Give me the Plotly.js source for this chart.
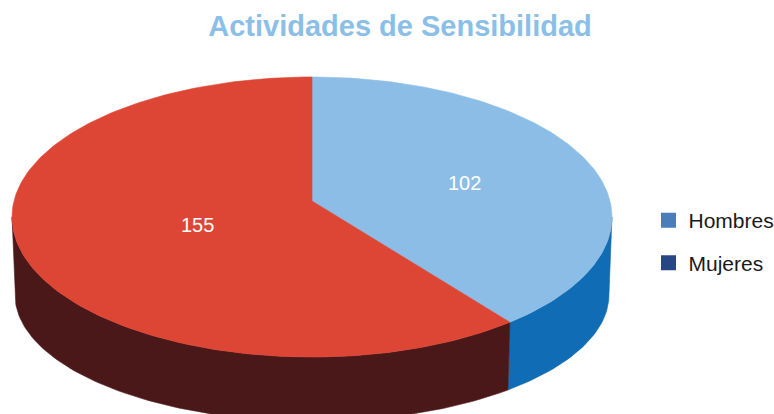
<!DOCTYPE html>
<html>
<head>
<meta charset="utf-8">
<script src="https://cdn.plot.ly/plotly-3.0.1.min.js"></script>
<style>html,body{margin:0;padding:0;background:#fff;}#chart{width:774px;height:414px;}</style>
</head>
<body>
<div id="chart"></div>
<script>
// ---- data ----
const categories = ['Hombres', 'Mujeres'];
const values = [102, 155];
const topColors = ['#8bbde6', '#dd4634'];
const sideColors = ['#106cb4', '#4b1819'];
const legendColors = ['#4a7ebb', '#264783'];
const chartTitle = 'Actividades de Sensibilidad';

// ---- 3D pie projection (perspective ellipse) ----
const topFace = {cx: 312, cy: 201, a: 298, b: 138.2, k: 0.1143};
const bottomFace = {cx: 312, cy: 280.6, a: 295, b: 124.7, k: 0.1143};
function proj(m, r, deg) {
  const t = deg * Math.PI / 180;
  const u = r * Math.sin(t), s = -r * Math.cos(t);
  const w = 1 - m.k * s;
  return [m.cx + m.a * u / w, m.cy + m.b * s / w];
}
function arc(m, a0, a1) {
  const n = Math.max(2, Math.ceil(Math.abs(a1 - a0) / 1));
  const xs = [], ys = [];
  for (let i = 0; i <= n; i++) {
    const p = proj(m, 1, a0 + (a1 - a0) * i / n);
    xs.push(p[0]); ys.push(p[1]);
  }
  return [xs, ys];
}
const total = values.reduce((a, b) => a + b, 0);
const starts = [], ends = [];
let acc = 0;
values.forEach(v => { starts.push(acc / total * 360); acc += v; ends.push(acc / total * 360); });

const visR = Math.acos(-topFace.k) * 180 / Math.PI;
const visL = 360 - visR;

const traces = [];
// side walls
values.forEach((v, i) => {
  const a0 = Math.max(starts[i], visR), a1 = Math.min(ends[i], visL);
  if (a1 <= a0) return;
  const t = arc(topFace, a0, a1), b = arc(bottomFace, a1, a0);
  const xs = t[0].concat(b[0]), ys = t[1].concat(b[1]);
  xs.push(xs[0]); ys.push(ys[0]);
  traces.push({x: xs, y: ys, type: 'scatter', mode: 'lines', fill: 'toself',
    fillcolor: sideColors[i], line: {color: sideColors[i], width: 0.6},
    hoverinfo: 'skip', showlegend: false});
});
// top slices
values.forEach((v, i) => {
  const c = proj(topFace, 0, 0);
  const t = arc(topFace, starts[i], ends[i]);
  const xs = [c[0]].concat(t[0], [c[0]]), ys = [c[1]].concat(t[1], [c[1]]);
  traces.push({x: xs, y: ys, type: 'scatter', mode: 'lines', fill: 'toself',
    fillcolor: topColors[i], line: {color: topColors[i], width: 0.6},
    name: categories[i], hoverinfo: 'skip', showlegend: false});
});
// legend entries
categories.forEach((c, i) => {
  traces.push({x: [null], y: [null], type: 'scatter', mode: 'markers', name: c,
    marker: {symbol: 'square', size: 15, color: legendColors[i]},
    legend: i === 0 ? 'legend' : 'legend2', showlegend: true});
});

// labels
const labelR = [0.55, 0.4];
const annotations = values.map((v, i) => {
  const p = proj(topFace, labelR[i], (starts[i] + ends[i]) / 2);
  return {x: p[0], y: p[1], xref: 'x', yref: 'y', text: String(v), showarrow: false,
    yshift: -6, font: {family: 'Liberation Sans, Arial, sans-serif', size: 20, color: '#ffffff'}};
});

const legendFont = {family: 'Liberation Sans, Arial, sans-serif', size: 21, color: '#1a1a1a'};
const legendX = 648.5 / 774;
const layout = {
  width: 774, height: 414,
  margin: {l: 0, r: 0, t: 0, b: 0, pad: 0, autoexpand: false},
  paper_bgcolor: '#ffffff', plot_bgcolor: '#ffffff',
  title: {text: chartTitle, x: 400 / 774, xanchor: 'center', y: 1 - 26 / 414, yanchor: 'middle',
    font: {family: 'Liberation Sans, Arial, sans-serif', size: 29, weight: 'bold', color: '#8bbfe7'}},
  xaxis: {range: [0, 774], visible: false, fixedrange: true},
  yaxis: {range: [414, 0], visible: false, fixedrange: true},
  showlegend: true,
  legend: {x: legendX, xanchor: 'left', y: 1 - 220.5 / 414, yanchor: 'middle', font: legendFont, bgcolor: 'rgba(0,0,0,0)'},
  legend2: {x: legendX, xanchor: 'left', y: 1 - 263 / 414, yanchor: 'middle', font: legendFont, bgcolor: 'rgba(0,0,0,0)'},
  annotations: annotations
};
Plotly.newPlot('chart', traces, layout, {staticPlot: true, displayModeBar: false});
</script>
</body>
</html>
